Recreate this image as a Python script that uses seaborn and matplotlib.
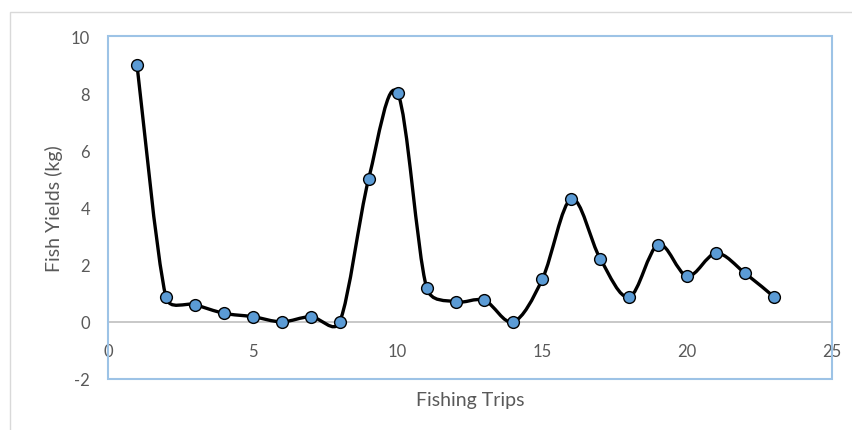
import numpy as np
import matplotlib
matplotlib.use("Agg")
import matplotlib.pyplot as plt
from matplotlib.path import Path
from matplotlib.patches import PathPatch, Rectangle
import seaborn as sns
import pandas as pd

trips = [1, 2, 3, 4, 5, 6, 7, 8, 9, 10, 11, 12, 13, 14, 15, 16, 17, 18, 19, 20, 21, 22, 23]
yields = [9.0, 0.87, 0.6, 0.3, 0.18, 0.0, 0.18, 0.0, 5.0, 8.0, 1.2, 0.7, 0.75, 0.0,
          1.5, 4.3, 2.2, 0.87, 2.7, 1.6, 2.4, 1.7, 0.87]
x_ticks = [0, 5, 10, 15, 20, 25]
y_ticks = [-2, 0, 2, 4, 6, 8, 10]

sns.set_theme(style="white")
plt.rcParams['font.family'] = ['Lato', 'DejaVu Sans']

df = pd.DataFrame({"trip": trips, "yield": yields})

fig = plt.figure(figsize=(8.53, 4.31), dpi=100)
# outer chart border (light gray)
fig.patches.append(Rectangle((10 / 853, -0.1), 1.2, 1 - 13 / 431 + 0.1,
                             transform=fig.transFigure, fill=False,
                             edgecolor="#D9D9D9", linewidth=1.0))
ax = fig.add_axes([108 / 853, 1 - 380 / 431, (832 - 108) / 853, (380 - 37) / 431])
ax.set_xlim(0, 25)
ax.set_ylim(-2, 10)

# smooth curve through the data points (Excel-like Bezier, built in display space)
pts = ax.transData.transform(np.column_stack([trips, yields]).astype(float))
n = len(pts)


def arm(i, seg_len):
    prev_p = pts[max(i - 1, 0)]
    next_p = pts[min(i + 1, n - 1)]
    t = (next_p - prev_p) / 6.0
    L = np.linalg.norm(t)
    cap = seg_len / 2.0
    if L > cap and L > 0:
        t = t * cap / L
    return t


verts = [pts[0]]
codes = [Path.MOVETO]
for i in range(n - 1):
    p1, p2 = pts[i], pts[i + 1]
    d12 = np.linalg.norm(p2 - p1)
    verts += [p1 + arm(i, d12), p2 - arm(i + 1, d12), p2]
    codes += [Path.CURVE4] * 3
inv = ax.transData.inverted()
verts_data = inv.transform(np.array(verts))
ax.add_patch(PathPatch(Path(verts_data, codes), facecolor="none", edgecolor="black",
                       linewidth=2.4, zorder=3, capstyle="round", joinstyle="round"))

sns.scatterplot(data=df, x="trip", y="yield", ax=ax, s=72, color="#5B9BD5",
                edgecolor="black", linewidth=1.0, zorder=4)

ax.set_xlim(0, 25)
ax.set_ylim(-2, 10)
ax.set_xticks(x_ticks)
ax.set_yticks(y_ticks)
ax.set_xticklabels([str(v) for v in x_ticks])
ax.set_yticklabels([str(v) for v in y_ticks])

for s in ["top", "right", "left"]:
    ax.spines[s].set_visible(False)
ax.spines["bottom"].set_position(("data", 0))
ax.spines["bottom"].set_color("#BFBFBF")
ax.spines["bottom"].set_linewidth(1.2)
ax.spines["bottom"].set_zorder(1)
ax.add_patch(Rectangle((0, 0), 1, 1, transform=ax.transAxes, fill=False,
                       edgecolor="#9DC3E6", linewidth=1.5, clip_on=False, zorder=2))

ax.tick_params(axis="x", length=0, pad=15, labelsize=12, labelcolor="#595959")
ax.tick_params(axis="y", length=0, pad=13, labelsize=12, labelcolor="#595959")
ax.set_xlabel("Fishing Trips", fontsize=14, color="#595959")
ax.set_ylabel("Fish Yields (kg)", fontsize=14, color="#595959")
ax.xaxis.set_label_coords(0.5, -0.035)
ax.yaxis.set_label_coords(-0.062, 0.5)
ax.grid(False)

fig.savefig("out.png", dpi=100)
